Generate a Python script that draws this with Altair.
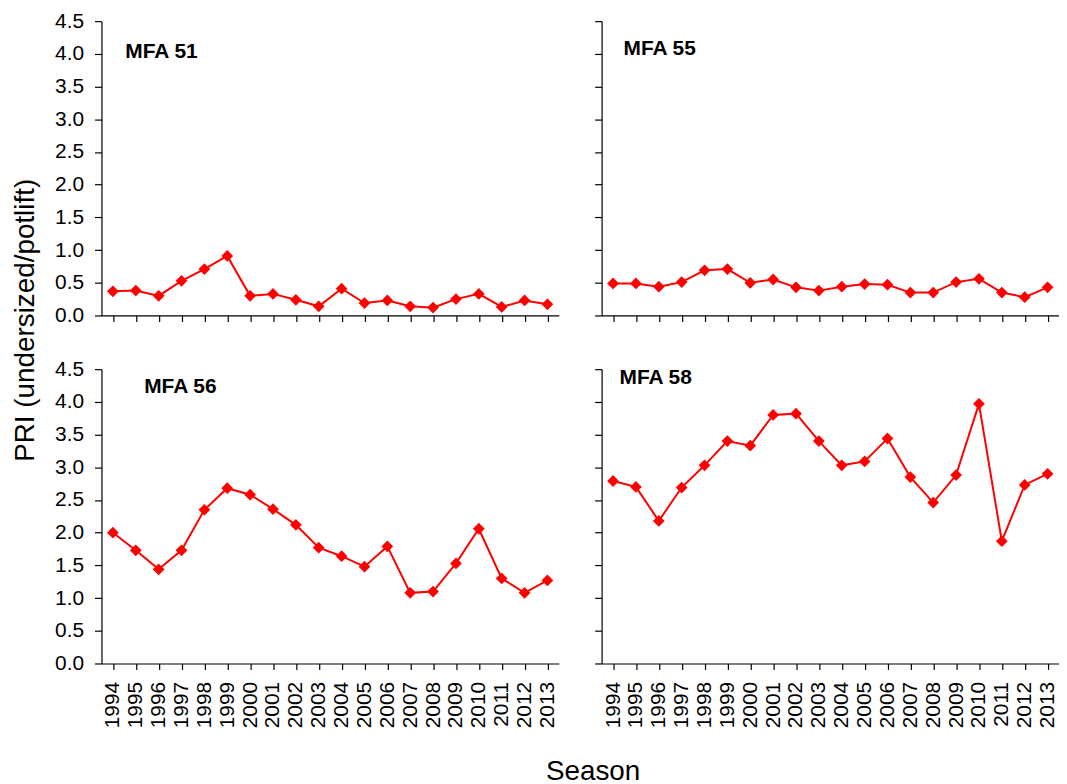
import altair as alt
import pandas as pd

years = ["1994", "1995", "1996", "1997", "1998", "1999", "2000", "2001", "2002", "2003",
         "2004", "2005", "2006", "2007", "2008", "2009", "2010", "2011", "2012", "2013"]

mfa51 = [0.37, 0.38, 0.30, 0.53, 0.71, 0.91, 0.30, 0.33, 0.24, 0.14,
         0.41, 0.19, 0.23, 0.14, 0.12, 0.25, 0.33, 0.13, 0.23, 0.17]
mfa55 = [0.49, 0.49, 0.44, 0.51, 0.69, 0.71, 0.50, 0.55, 0.43, 0.38,
         0.44, 0.48, 0.47, 0.35, 0.35, 0.51, 0.56, 0.35, 0.28, 0.43]
mfa56 = [2.00, 1.73, 1.44, 1.73, 2.35, 2.68, 2.58, 2.36, 2.12, 1.77,
         1.64, 1.48, 1.79, 1.08, 1.10, 1.53, 2.06, 1.30, 1.08, 1.27]
mfa58 = [2.79, 2.70, 2.18, 2.69, 3.03, 3.40, 3.33, 3.80, 3.82, 3.40,
         3.03, 3.09, 3.44, 2.85, 2.46, 2.88, 3.97, 1.87, 2.73, 2.90]

panel_names = ["MFA 51", "MFA 55", "MFA 56", "MFA 58"]
y_ticks = [0.0, 0.5, 1.0, 1.5, 2.0, 2.5, 3.0, 3.5, 4.0, 4.5]

FONT = "Liberation Sans"
RED = "#FF0000"


def panel(name, vals, show_x_labels, show_y_labels, tx, ty):
    df = pd.DataFrame({"Season": years, "PRI": vals})
    base = alt.Chart(df).encode(
        x=alt.X("Season:O", sort=years, title=None,
                axis=alt.Axis(labels=show_x_labels, labelAngle=-90, tickSize=6,
                              labelFontSize=21, labelPadding=12)),
        y=alt.Y("PRI:Q", scale=alt.Scale(domain=[0, 4.5], nice=False, zero=True),
                title=None,
                axis=alt.Axis(values=y_ticks, format=".1f", labels=show_y_labels,
                              tickSize=7, labelFontSize=21, labelPadding=11, grid=False)),
    )
    line = base.mark_line(color=RED, strokeWidth=2)
    pts = base.mark_point(shape="diamond", filled=True, size=140, color=RED, opacity=1)
    txt = alt.Chart(pd.DataFrame({"t": [name]})).mark_text(
        align="left", baseline="middle", fontSize=21, fontWeight="bold",
        font=FONT, color="black"
    ).encode(text="t:N", x=alt.value(tx), y=alt.value(ty))
    return alt.layer(line, pts, txt).properties(width=460, height=296)


tl = panel(panel_names[0], mfa51, False, True, 24, 31)
tr = panel(panel_names[1], mfa55, False, False, 22, 28)
bl = panel(panel_names[2], mfa56, True, True, 43, 18)
br = panel(panel_names[3], mfa58, True, False, 18, 9)

row1 = alt.hconcat(tl, tr, spacing=35)
row2 = alt.hconcat(bl, br, spacing=35)

inner = alt.vconcat(row1, row2, spacing=33).properties(
    title=alt.TitleParams("PRI (undersized/potlift)", orient="left", anchor="middle",
                          fontSize=28, font=FONT, fontWeight="normal", offset=15,
                          dx=49, color="black")
)

chart = alt.vconcat(inner).properties(
    padding={"left": 3, "top": 0, "right": 0, "bottom": 0},
    title=alt.TitleParams("Season", orient="bottom", anchor="middle",
                          fontSize=28, font=FONT, fontWeight="normal", offset=30,
                          dx=58, color="black")
).configure_view(stroke=None).configure_axis(
    domainColor="black", tickColor="black", labelColor="black", labelFont=FONT,
    domainWidth=1.2, tickWidth=1.2
).configure_concat(spacing=0)

chart.save("out.html", embed_options={"renderer": "svg", "actions": False})
